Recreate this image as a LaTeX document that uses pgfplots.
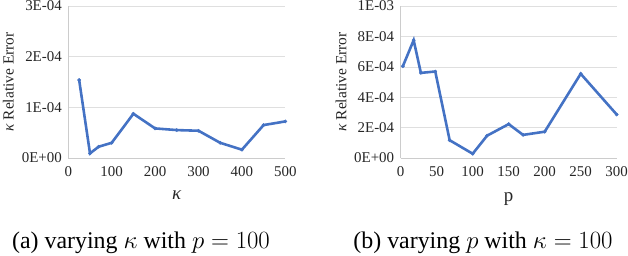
\documentclass[border=0pt]{standalone}
\usepackage{fontspec}
\setmainfont{Liberation Serif}
\usepackage{pgfplots}
\pgfplotsset{compat=1.18}
\definecolor{xblue}{HTML}{4472C4}
\pgfplotsset{
  myax/.style={
    scale only axis, width=217bp, height=152bp, anchor=south west,
    axis x line*=bottom, axis y line*=left,
    axis line style={gray!40, line width=0.6pt},
    ymajorgrids, grid style={gray!25, line width=0.6pt},
    major tick length=0pt,
    scaled y ticks=false, scaled x ticks=false,
    tick label style={font=\fontsize{15}{17}\selectfont, text=black!85},
    ylabel style={font=\fontsize{15.5}{18}\selectfont, text=black!85},
    xlabel style={font=\fontsize{19}{22}\selectfont, text=black!85},
    /pgf/number format/assume math mode=true,
    xticklabel style={yshift=-5bp},
    yticklabel style={xshift=-3bp},
    clip=false,
  },
  myplot/.style={xblue, line width=2.6pt, mark=*, mark size=1.6bp, mark options={fill=xblue, line width=0.5pt}}
}
\begin{document}
\begin{tikzpicture}
\begin{axis}[myax, at={(68.3bp,-158bp)},
  xmin=0, xmax=500, ymin=0, ymax=3e-4,
  xtick={0,100,200,300,400,500},
  ytick={0,1e-4,2e-4,3e-4}, yticklabels={0E+00,1E-04,2E-04,3E-04},
  xlabel={\textit{κ}}, ylabel={\textit{κ} Relative Error},
  xlabel style={at={(axis description cs:0.5,-0.245)}, anchor=center},
  ylabel style={at={(axis description cs:-0.276,0.5)}, anchor=center}]
\addplot[myplot] coordinates {
(25,1.54e-4) (50,0.092e-4) (70,0.223e-4) (100,0.30e-4) (150,0.873e-4)
(200,0.584e-4) (250,0.551e-4) (300,0.538e-4) (350,0.30e-4) (400,0.164e-4)
(450,0.65e-4) (500,0.722e-4)};
\end{axis}
\begin{axis}[myax, at={(400.7bp,-158bp)}, width=216bp,
  xmin=0, xmax=300, ymin=0, ymax=1e-3,
  xtick={0,50,100,150,200,250,300},
  ytick={0,2e-4,4e-4,6e-4,8e-4,1e-3}, yticklabels={0E+00,2E-04,4E-04,6E-04,8E-04,1E-03},
  xlabel={p}, ylabel={\textit{κ} Relative Error},
  xlabel style={at={(axis description cs:0.5,-0.27)}, anchor=center},
  ylabel style={at={(axis description cs:-0.276,0.5)}, anchor=center}]
\addplot[myplot] coordinates {
(3,6.04e-4) (18,7.75e-4) (28,5.6e-4) (48,5.69e-4) (68,1.17e-4)
(100,0.28e-4) (120,1.47e-4) (150,2.23e-4) (170,1.52e-4) (200,1.73e-4)
(250,5.54e-4) (300,2.86e-4)};
\end{axis}
\node[font=\fontsize{24}{28}\selectfont, anchor=base] at (141bp,-248bp) {(a) varying $\kappa$ with $p=100$};
\node[font=\fontsize{24}{28}\selectfont, anchor=base] at (483bp,-248bp) {(b) varying $p$ with $\kappa=100$};
\pgfresetboundingbox
\useasboundingbox (0,0) rectangle (628bp,-256bp);
\end{tikzpicture}
\end{document}
